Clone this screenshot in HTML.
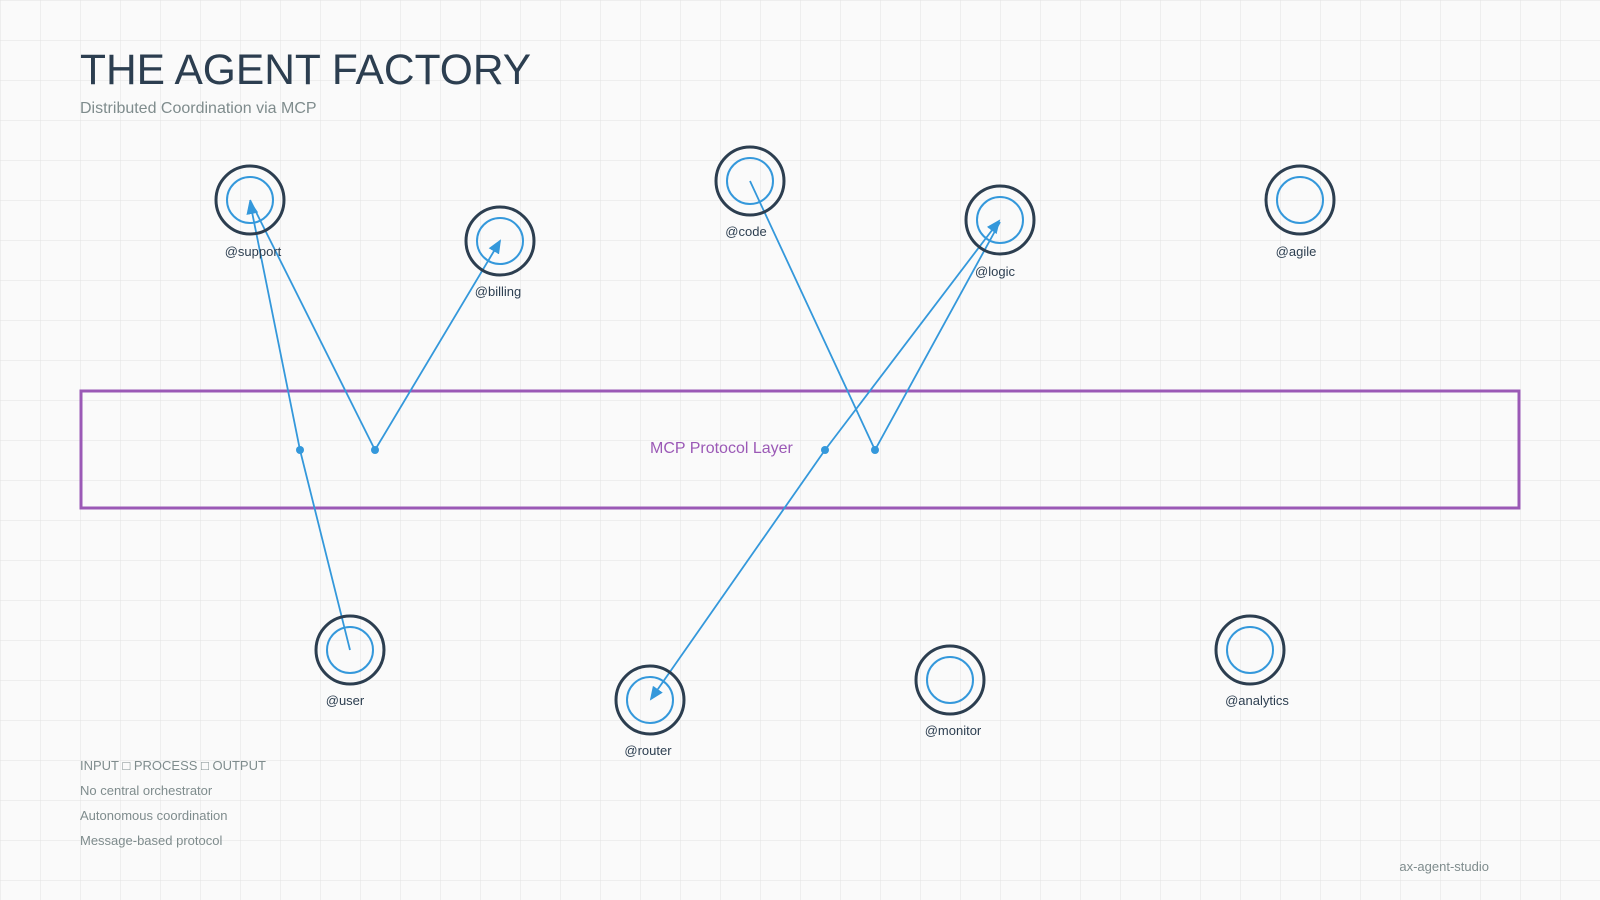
<!DOCTYPE html>
<html><head><meta charset="utf-8"><style>
html,body{margin:0;padding:0;background:#fafafa;}
svg{display:block;font-family:"Liberation Sans",Arial,sans-serif;}
</style></head><body>
<svg width="1600" height="900" viewBox="0 0 1600 900" xmlns="http://www.w3.org/2000/svg">
<defs>
<pattern id="g" width="40" height="40" patternUnits="userSpaceOnUse">
<path d="M40 0H0V40" fill="none" stroke="#e2e2e2" stroke-width="1"/>
</pattern>
<marker id="a" markerWidth="14" markerHeight="12" refX="12" refY="6" orient="auto" markerUnits="userSpaceOnUse">
<path d="M0,0 L14,6 L0,12 Z" fill="#3498db"/>
</marker>
</defs>
<rect width="1600" height="900" fill="#fafafa"/>
<rect width="1600" height="900" fill="url(#g)"/>
<text x="80" y="84" font-size="42.5" fill="#2c3e50">THE AGENT FACTORY</text>
<text x="80" y="113" font-size="16" fill="#7f8c8d">Distributed Coordination via MCP</text>

<rect x="81" y="391" width="1438" height="117" fill="none" stroke="#9b59b6" stroke-width="3"/>
<text x="650" y="453" font-size="16" fill="#9b59b6">MCP Protocol Layer</text>

<g fill="none" stroke="#3498db" stroke-width="1.8">
<polyline points="350,650 300,450 250,202" marker-end="url(#a)"/>
<polyline points="250,200 375,450 500,241" marker-end="url(#a)"/>
<polyline points="750,181 875,450 1000,222"/>
<polyline points="825,450 999,221" marker-end="url(#a)"/>
<polyline points="825,450 651,699" marker-end="url(#a)"/>
</g>
<g fill="#3498db">
<circle cx="300" cy="450" r="4"/><circle cx="375" cy="450" r="4"/>
<circle cx="825" cy="450" r="4"/><circle cx="875" cy="450" r="4"/>
</g>

<g font-size="13" fill="#2c3e50" text-anchor="middle">
<g><circle cx="250" cy="200" r="34" fill="none" stroke="#2c3e50" stroke-width="3"/><circle cx="250" cy="200" r="23" fill="none" stroke="#3498db" stroke-width="2"/><text x="253" y="256">@support</text></g>
<g><circle cx="500" cy="241" r="34" fill="none" stroke="#2c3e50" stroke-width="3"/><circle cx="500" cy="241" r="23" fill="none" stroke="#3498db" stroke-width="2"/><text x="498" y="296">@billing</text></g>
<g><circle cx="750" cy="181" r="34" fill="none" stroke="#2c3e50" stroke-width="3"/><circle cx="750" cy="181" r="23" fill="none" stroke="#3498db" stroke-width="2"/><text x="746" y="236">@code</text></g>
<g><circle cx="1000" cy="220" r="34" fill="none" stroke="#2c3e50" stroke-width="3"/><circle cx="1000" cy="220" r="23" fill="none" stroke="#3498db" stroke-width="2"/><text x="995" y="276">@logic</text></g>
<g><circle cx="1300" cy="200" r="34" fill="none" stroke="#2c3e50" stroke-width="3"/><circle cx="1300" cy="200" r="23" fill="none" stroke="#3498db" stroke-width="2"/><text x="1296" y="256">@agile</text></g>
<g><circle cx="350" cy="650" r="34" fill="none" stroke="#2c3e50" stroke-width="3"/><circle cx="350" cy="650" r="23" fill="none" stroke="#3498db" stroke-width="2"/><text x="345" y="705">@user</text></g>
<g><circle cx="650" cy="700" r="34" fill="none" stroke="#2c3e50" stroke-width="3"/><circle cx="650" cy="700" r="23" fill="none" stroke="#3498db" stroke-width="2"/><text x="648" y="755">@router</text></g>
<g><circle cx="950" cy="680" r="34" fill="none" stroke="#2c3e50" stroke-width="3"/><circle cx="950" cy="680" r="23" fill="none" stroke="#3498db" stroke-width="2"/><text x="953" y="735">@monitor</text></g>
<g><circle cx="1250" cy="650" r="34" fill="none" stroke="#2c3e50" stroke-width="3"/><circle cx="1250" cy="650" r="23" fill="none" stroke="#3498db" stroke-width="2"/><text x="1257" y="705">@analytics</text></g>
</g>

<g font-size="13" fill="#7f8c8d">
<text x="80" y="770">INPUT □ PROCESS □ OUTPUT</text>
<text x="80" y="795">No central orchestrator</text>
<text x="80" y="820">Autonomous coordination</text>
<text x="80" y="845">Message-based protocol</text>
</g>
<text x="1489" y="871" font-size="13" fill="#7f8c8d" text-anchor="end">ax-agent-studio</text>
</svg>
</body></html>
